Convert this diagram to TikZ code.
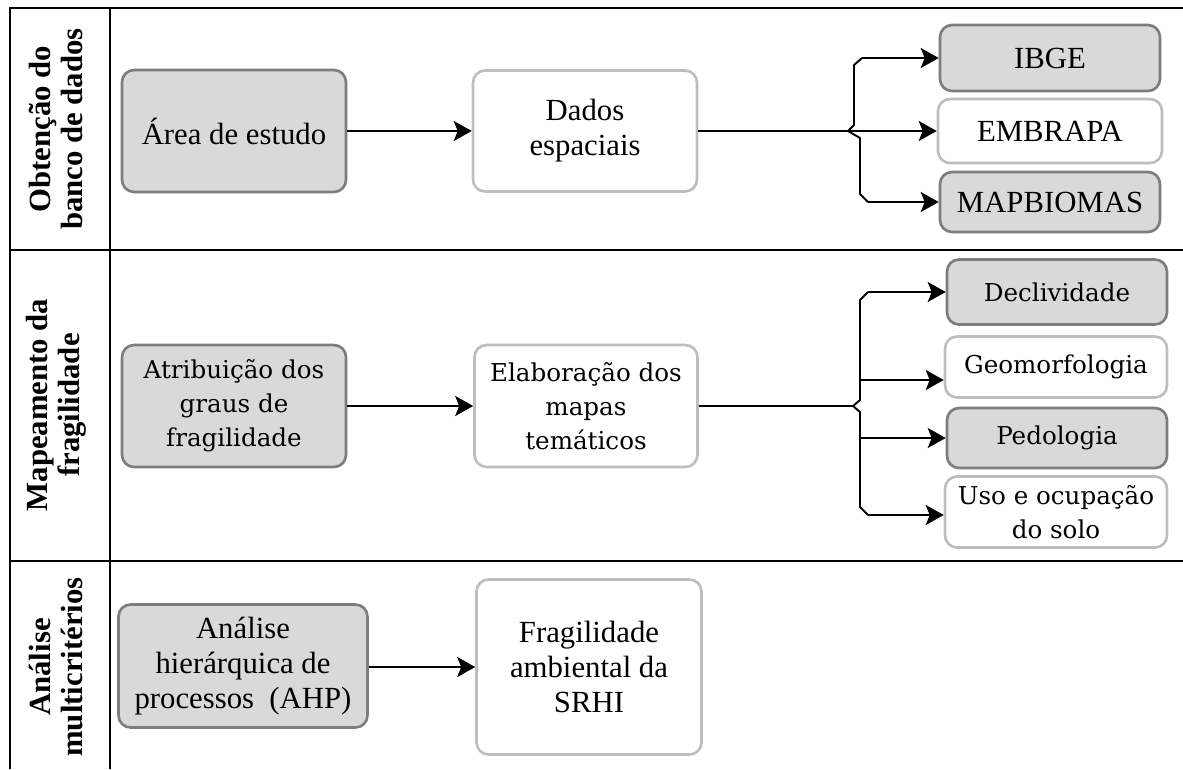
\documentclass[tikz,border=0pt]{standalone}
\usepackage{fontspec}
\setmainfont{Liberation Serif}
\newfontfamily\cambfont{DejaVu Serif}
\usepackage{tikz}
\usetikzlibrary{arrows.meta}
\definecolor{boxfill}{RGB}{217,217,217}
\definecolor{boxedge}{RGB}{125,125,125}
\definecolor{litedge}{RGB}{190,190,190}

\begin{document}
\begin{tikzpicture}[x=0.02cm, y=-0.02cm,
  tabline/.style={line width=1.1pt, black},
  conn/.style={line width=1.1pt, black, line join=round},
  arr/.style={conn, -{Stealth[length=0.36cm, width=0.4cm, inset=0.08cm]}},
  boxbase/.style={line width=1.5pt, rounded corners=0.24cm, inner sep=0pt,
       align=center, font=\fontsize{17.5}{20}\selectfont},
  graybox/.style={boxbase, draw=boxedge, fill=boxfill},
  whitebox/.style={boxbase, draw=litedge, fill=white},
  camb/.style={font=\cambfont\fontsize{14}{19.3}\selectfont},
  rowlabel/.style={rotate=90, align=center, font=\bfseries\fontsize{17.5}{18.2}\selectfont}]

\useasboundingbox (0,0) rectangle (1183,769);

\draw[tabline] (10,769) -- (10,8) -- (1183,8);
\draw[tabline] (110,8) -- (110,769);
\draw[tabline] (10,250) -- (1183,250);
\draw[tabline] (10,561) -- (1183,561);

\node[rowlabel] (lab1) at (56,129) {Obtenção do\\banco de dados};
\node[rowlabel] (lab2) at (56,405) {Mapeamento da\\fragilidade};
\node[rowlabel] (lab3) at (56,667) {Análise\\multicritérios};

\node[graybox, minimum width=4.48cm, minimum height=2.44cm] (area) at (234,131) {Área de estudo};
\node[whitebox, minimum width=4.48cm, minimum height=2.42cm] (dados) at (585,131) {Dados\\espaciais};
\node[graybox, minimum width=4.4cm, minimum height=1.32cm] (ibge) at (1050,58) {IBGE};
\node[whitebox, minimum width=4.48cm, minimum height=1.28cm] (embrapa) at (1050,131) {EMBRAPA};
\node[graybox, minimum width=4.4cm, minimum height=1.2cm] (mapbiomas) at (1050,202) {MAPBIOMAS};

\node[graybox, camb, minimum width=4.48cm, minimum height=2.44cm] (atrib) at (234,406) {Atribuição dos\\graus de\\fragilidade};
\node[whitebox, camb, minimum width=4.46cm, minimum height=2.44cm] (elab) at (586,406) {Elaboração dos\\mapas\\temáticos};
\node[graybox, camb, minimum width=4.4cm, minimum height=1.3cm] (decliv) at (1057,292) {Declividade};
\node[whitebox, camb, minimum width=4.44cm, minimum height=1.22cm] (geomorf) at (1056,367) {Geomorfologia};
\node[graybox, camb, minimum width=4.4cm, minimum height=1.2cm] (pedol) at (1057,438) {Pedologia};
\node[whitebox, camb, minimum width=4.44cm, minimum height=1.42cm] (uso) at (1056,512) {Uso e ocupação\\do solo};

\node[graybox, minimum width=4.98cm, minimum height=2.46cm] (ahp) at (243,666) {Análise\\hierárquica de\\processos \ (AHP)};
\node[whitebox, minimum width=4.5cm, minimum height=3.5cm] (frag) at (589,667) {Fragilidade\\ambiental da\\SRHI};

\draw[arr] (area) -- (dados);
\draw[arr] (atrib) -- (elab);
\draw[arr] (ahp.east |- frag.west) -- (frag.west);

\coordinate (tip1) at (848,131);
\coordinate (top1) at (862,58);
\coordinate (bot1) at (868,202);
\draw[conn] (dados.east) -- (tip1);
\draw[conn] (top1) -- (854,65) -- (854,125) -- (tip1) -- (860,138) -- (860,194) -- (bot1);
\draw[arr] (top1) -- (ibge.west);
\draw[arr] (tip1) -- (embrapa.west);
\draw[arr] (bot1) -- (mapbiomas.west);

\coordinate (tip2) at (853,406);
\coordinate (top2) at (868,292);
\coordinate (geo2) at (860,380);
\coordinate (ped2) at (860,438);
\coordinate (bot2) at (868,515);
\draw[conn] (elab.east) -- (tip2);
\draw[conn] (top2) -- (860,300) -- (860,400) -- (tip2) -- (860,412) -- (860,507) -- (bot2);
\draw[arr] (top2) -- (decliv.west);
\draw[arr] (geo2) -- (geomorf.west |- geo2);
\draw[arr] (ped2) -- (pedol.west);
\draw[arr] (bot2) -- (uso.west |- bot2);
\end{tikzpicture}
\end{document}
